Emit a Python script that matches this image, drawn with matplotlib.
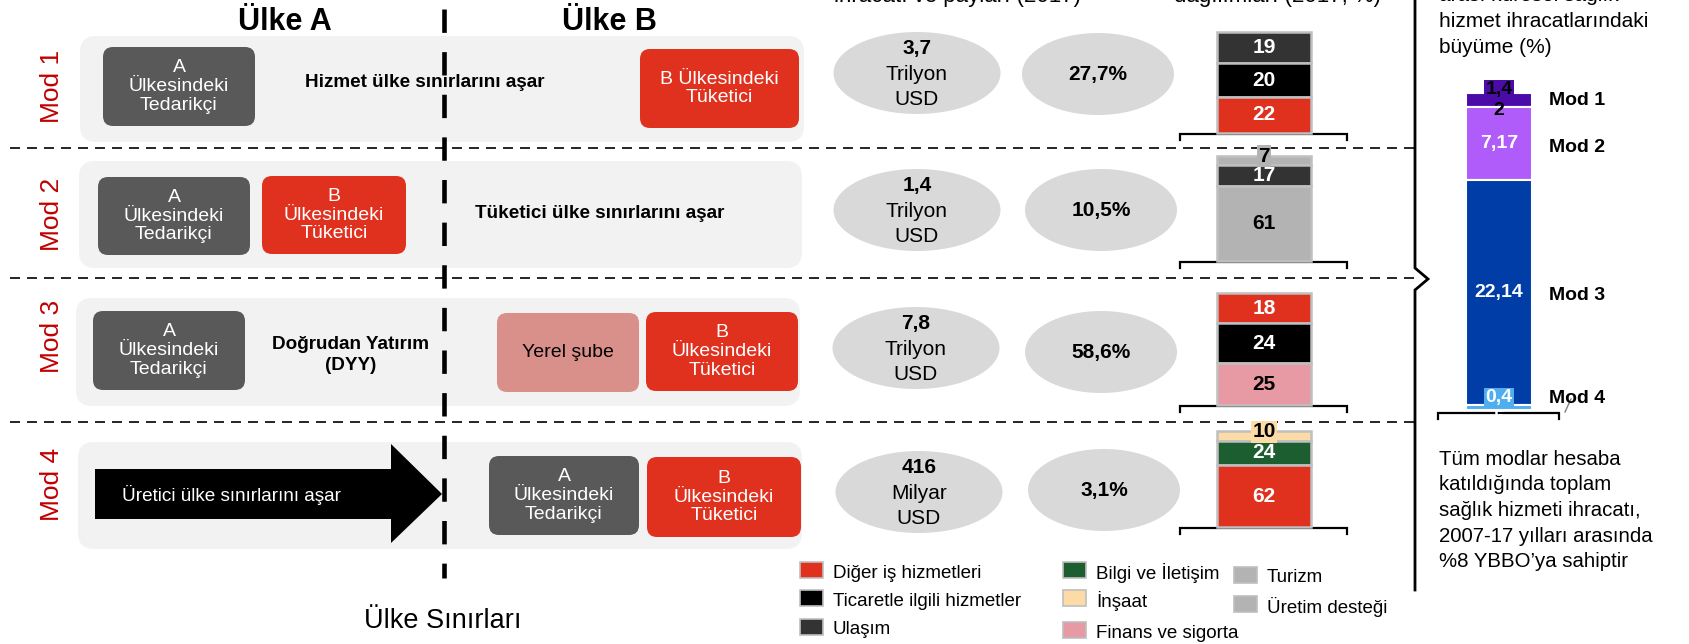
import matplotlib.pyplot as plt
from matplotlib.patches import FancyBboxPatch, Ellipse, Rectangle, Polygon

plt.rcParams['font.family'] = ['Liberation Sans', 'DejaVu Sans']

# --- Dati ---
modes = ['Mod 1', 'Mod 2', 'Mod 3', 'Mod 4']
export_value = ['3,7', '1,4', '7,8', '416']
export_unit = ['Trilyon', 'Trilyon', 'Trilyon', 'Milyar']
export_share = ['27,7%', '10,5%', '58,6%', '3,1%']

mod1_sectors = ['Ulaşım', 'Ticaretle ilgili hizmetler', 'Diğer iş hizmetleri']
mod1_values = [19, 20, 22]
mod2_sectors = ['Üretim desteği', 'Ulaşım', 'Turizm']
mod2_values = [7, 17, 61]
mod3_sectors = ['Diğer iş hizmetleri', 'Ticaretle ilgili hizmetler', 'Finans ve sigorta']
mod3_values = [18, 24, 25]
mod4_sectors = ['İnşaat', 'Bilgi ve İletişim', 'Diğer iş hizmetleri']
mod4_values = [10, 24, 62]

growth_values = [1.42, 7.17, 22.14, 0.45]
growth_labels = ['1,4\n2', '7,17', '22,14', '0,4\n5']

sector_colors = {
    'Diğer iş hizmetleri': '#E0311F',
    'Ticaretle ilgili hizmetler': '#000000',
    'Ulaşım': '#333333',
    'Bilgi ve İletişim': '#1C5E30',
    'İnşaat': '#FDDBA6',
    'Finans ve sigorta': '#E89AA4',
    'Turizm': '#B3B3B3',
    'Üretim desteği': '#B3B3B3',
}
dark_sectors = ['Diğer iş hizmetleri', 'Ticaretle ilgili hizmetler', 'Ulaşım', 'Bilgi ve İletişim']
legend_cols = [
    ['Diğer iş hizmetleri', 'Ticaretle ilgili hizmetler', 'Ulaşım'],
    ['Bilgi ve İletişim', 'İnşaat', 'Finans ve sigorta'],
    ['Turizm', 'Üretim desteği'],
]
growth_colors = ['#4A0BA8', '#B05CFA', '#003DA6', '#4FAEEF']
growth_text = ['black', 'white', 'white', 'white']

RED = '#E0311F'
DARK = '#595959'
MODRED = '#C00000'

W, H = 1689, 644
fig = plt.figure(figsize=(W / 100, H / 100), dpi=100)
ax = fig.add_axes([0, 0, 1, 1])
ax.set_xlim(0, W)
ax.set_ylim(H, 0)
ax.axis('off')


def rbox(x0, y0, x1, y1, color, r=10, z=2):
    p = FancyBboxPatch((x0 + r, y0 + r), x1 - x0 - 2 * r, y1 - y0 - 2 * r,
                       boxstyle=f'round,pad={r}', fc=color, ec='none', zorder=z)
    ax.add_patch(p)


def tbox(x0, y0, x1, y1, color, text, tcolor='white'):
    rbox(x0, y0, x1, y1, color, r=10, z=3)
    ax.text((x0 + x1) / 2, (y0 + y1) / 2, text, color=tcolor, fontsize=14,
            ha='center', va='center', linespacing=1.15, zorder=4)


# --- Pannelli a sinistra ---
panels = [(80, 36, 804, 142), (79, 161, 802, 268), (76, 298, 800, 406), (78, 442, 802, 549)]
mod_y = [86, 214, 336, 484]
for (x0, y0, x1, y1), m, my in zip(panels, modes, mod_y):
    rbox(x0, y0, x1, y1, '#F2F2F2', r=16, z=1)
    ax.text(52, my, m, rotation=90, color=MODRED, fontsize=19, ha='center', va='center')

ted = 'A\nÜlkesindeki\nTedarikçi'
tuk = 'B\nÜlkesindeki\nTüketici'
tbox(103, 47, 255, 126, DARK, ted)
tbox(640, 49, 799, 128, RED, 'B Ülkesindeki\nTüketici')
ax.text(425, 82, 'Hizmet ülke sınırlarını aşar', fontsize=13.6, fontweight='bold',
        ha='center', va='center', zorder=4)

tbox(98, 177, 250, 255, DARK, ted)
tbox(262, 176, 406, 254, RED, tuk)
ax.text(600, 213, 'Tüketici ülke sınırlarını aşar', fontsize=13.6, fontweight='bold',
        ha='center', va='center', zorder=4)

tbox(93, 311, 245, 390, DARK, ted)
tbox(497, 313, 639, 392, '#D9908A', 'Yerel şube', tcolor='black')
tbox(646, 312, 798, 391, RED, tuk)
ax.text(351, 355, 'Doğrudan Yatırım\n(DYY)', fontsize=13.6, fontweight='bold',
        ha='center', va='center', linespacing=1.3, zorder=4)

ax.add_patch(Polygon([(95, 469), (391, 469), (391, 444), (442, 494), (391, 543),
                      (391, 519), (95, 519)], closed=True, fc='black', ec='none', zorder=3))
ax.text(122, 495, 'Üretici ülke sınırlarını aşar', color='white', fontsize=13.7,
        ha='left', va='center', zorder=4)
tbox(489, 456, 639, 535, DARK, ted)
tbox(647, 457, 801, 537, RED, tuk)

ax.text(285, 22, 'Ülke A', fontsize=22, fontweight='bold', ha='center', va='center')
ax.text(609, 22, 'Ülke B', fontsize=22, fontweight='bold', ha='center', va='center')
ax.text(443, 621, 'Ülke Sınırları', fontsize=19.5, ha='center', va='center')

# linee tratteggiate
for yy in [148, 278, 422]:
    ax.plot([10, 1420], [yy, yy], color='black', lw=1.2, ls=(0, (6, 4.2)), zorder=5)
ax.plot([444, 444], [9, 578], color='black', lw=3.3, ls=(0, (5.1, 4.2)),
        solid_capstyle='butt', zorder=6)

# --- Ellissi ---
ell1 = [(917, 73), (917, 210), (916, 348), (919, 492)]
ell2 = [(1098, 74), (1101, 210), (1101, 352), (1104, 490)]
for (cx, cy), v, u in zip(ell1, export_value, export_unit):
    ax.add_patch(Ellipse((cx, cy), 167, 82, fc='#D9D9D9', ec='none', zorder=2))
    ax.text(cx, cy - 25, v, fontsize=15, fontweight='bold', ha='center', va='center', zorder=3)
    ax.text(cx, cy + 1, u, fontsize=15, ha='center', va='center', zorder=3)
    ax.text(cx, cy + 26, 'USD', fontsize=15, ha='center', va='center', zorder=3)
for (cx, cy), s in zip(ell2, export_share):
    ax.add_patch(Ellipse((cx, cy), 152, 82, fc='#D9D9D9', ec='none', zorder=2))
    ax.text(cx, cy, s, fontsize=15, fontweight='bold', ha='center', va='center', zorder=3)

# intestazioni tagliate in alto come nell'originale
ax.text(958, 2, 'ihracatı ve payları (2017)', fontsize=16, ha='center', va='baseline')
ax.text(1278, 2, 'dağılımları (2017, %)', fontsize=16, ha='center', va='baseline')

# --- Barre impilate settoriali ---
bar_rects = [(1217, 32, 1311, 133), (1217, 156, 1311, 261),
             (1217, 293, 1311, 405), (1217, 431, 1311, 527)]
bar_data = [(mod1_sectors, mod1_values), (mod2_sectors, mod2_values),
            (mod3_sectors, mod3_values), (mod4_sectors, mod4_values)]


def inset(x0, y0, x1, y1):
    a = fig.add_axes([x0 / W, 1 - y1 / H, (x1 - x0) / W, (y1 - y0) / H])
    a.axis('off')
    return a


for (x0, y0, x1, y1), (secs, vals) in zip(bar_rects, bar_data):
    b = inset(x0, y0, x1, y1)
    total = sum(vals)
    b.set_ylim(total, 0)
    b.set_xlim(-0.5, 0.5)
    bottom = 0
    for s, v in zip(secs, vals):
        b.bar(0, v, bottom=bottom, width=1, color=sector_colors[s], edgecolor='#BFBFBF',
              linewidth=1.8, clip_on=False)
        tc = 'white' if s in dark_sectors else 'black'
        small = v / total < 0.12
        kw = dict(bbox=dict(fc=sector_colors[s], ec='none', pad=1)) if small else {}
        b.annotate(str(v), (0, bottom + v / 2), xytext=(0, 3 if small else 0),
                   textcoords='offset points', fontsize=15, fontweight='bold', color=tc,
                   ha='center', va='center', annotation_clip=False, **kw)
        bottom += v
    # parentesi sotto la barra
    yb = y1 + 1
    ax.plot([1180, 1180, 1347, 1347], [yb + 6, yb, yb, yb + 6], color='black', lw=1.6,
            solid_joinstyle='miter')

# --- Legenda ---
leg_x = [800, 1063, 1234]
leg_y = [[570, 598, 627], [570, 598, 630], [575, 604]]
for lx, rows, ys in zip(leg_x, legend_cols, leg_y):
    for s, yy in zip(rows, ys):
        ax.add_patch(Rectangle((lx, yy - 8), 23, 16, fc=sector_colors[s], ec='#BFBFBF', lw=1.2))
        ax.text(lx + 33, yy + 3, s, fontsize=13.5, ha='left', va='center')

# --- Pannello destro ---
ax.plot([1415, 1415, 1428, 1415, 1415], [0, 268, 279, 290, 590], color='black', lw=2,
        solid_joinstyle='miter')

top_lines = ['arası küresel sağlık', 'hizmet ihracatlarındaki', 'büyüme (%)']
for i, t in enumerate(top_lines):
    ax.text(1439, 1 + 26 * i, t, fontsize=15, ha='left', va='baseline')

g = inset(1466, 93, 1532, 410)
gt = sum(growth_values)
g.set_ylim(gt, 0)
g.set_xlim(-0.5, 0.5)
bottom = 0
for v, c, lab, tc in zip(growth_values, growth_colors, growth_labels, growth_text):
    g.bar(0, v, bottom=bottom, width=1, color=c, edgecolor='white', linewidth=1.5, clip_on=False)
    parts = lab.split('\n')
    mid = bottom + v / 2
    if len(parts) == 2:
        g.annotate(parts[0], (0, mid), xytext=(0, 7.5), textcoords='offset points',
                   fontsize=14, fontweight='bold', color=tc, ha='center', va='center',
                   annotation_clip=False, bbox=dict(fc=c, ec='none', pad=0.8))
        g.annotate(parts[1], (0, mid), xytext=(0, -7.5), textcoords='offset points',
                   fontsize=14, fontweight='bold', color=tc, ha='center', va='center',
                   annotation_clip=False)
    else:
        g.annotate(lab, (0, mid), fontsize=14, fontweight='bold', color=tc,
                   ha='center', va='center', annotation_clip=False)
    bottom += v

mod_label_y = [100, 147, 295, 398]
for m, yy in zip(modes, mod_label_y):
    ax.text(1549, yy, m, fontsize=14, fontweight='bold', ha='left', va='center')
ax.plot([1565, 1571], [412, 399], color='#808080', lw=1)
ax.plot([1438, 1438, 1559, 1559], [419, 413, 413, 419], color='black', lw=1.6,
        solid_joinstyle='miter')

bottom_lines = ['Tüm modlar hesaba', 'katıldığında toplam', 'sağlık hizmeti ihracatı,',
                '2007-17 yılları arasında', '%8 YBBO’ya sahiptir']
for i, t in enumerate(bottom_lines):
    ax.text(1439, 459 + 25.7 * i, t, fontsize=14.7, ha='left', va='center')

fig.savefig('out.png', dpi=100)
